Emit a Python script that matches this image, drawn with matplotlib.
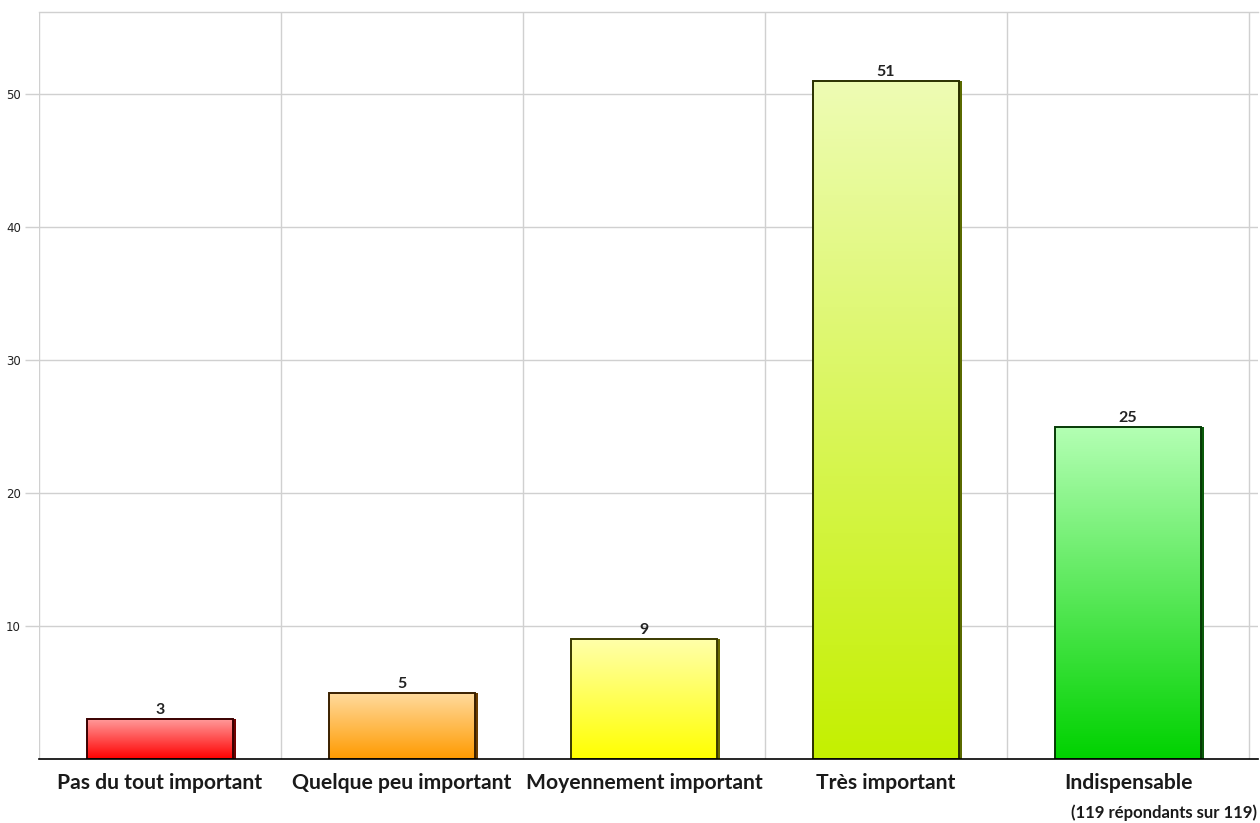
import numpy as np
import matplotlib
matplotlib.use("Agg")
import matplotlib.pyplot as plt
import matplotlib.transforms as mtransforms
from matplotlib.colors import LinearSegmentedColormap

categories = ["Pas du tout important", "Quelque peu important", "Moyennement important",
              "Très important", "Indispensable"]
counts = [3, 5, 9, 51, 25]
yticks = [10, 20, 30, 40, 50]
note = "(119 répondants sur 119)"

# gradient (top colour, bottom colour, edge colour) for each bar
top_colors = ["#ff9a9a", "#ffdca0", "#ffffaa", "#eefcb4", "#b4ffb4"]
bottom_colors = ["#ff0000", "#ff9a00", "#ffff00", "#c4f000", "#00d200"]
edge_colors = ["#3a0000", "#3a2000", "#3a3a00", "#2a3000", "#063a06"]
shadow_colors = ["#700000", "#6a3c00", "#6a6a00", "#5a6a00", "#0a5a0a"]

fig = plt.figure(figsize=(12.6, 8.23), dpi=100)
ax = fig.add_axes([39 / 1260, 1 - 759 / 823, (1258 - 39) / 1260, (759 - 12) / 823])

x = np.arange(len(categories))
width = 0.6
ax.set_xlim(-0.5, 4.537)
ax.set_ylim(0, 56.2)

# grid
for b in np.arange(-0.5, 5, 1.0):
    ax.axvline(b, color="#d0d0d0", lw=1, zorder=0)
for t in yticks:
    ax.axhline(t, color="#d0d0d0", lw=1, zorder=0)
ax.axhline(56.2, color="#d0d0d0", lw=1, zorder=0, clip_on=False)

shadow_tr = mtransforms.offset_copy(ax.transData, fig=fig, x=3, y=0, units="dots")
for i, (xi, v) in enumerate(zip(x, counts)):
    # drop shadow on the right
    ax.bar(xi, v, width=width, color=shadow_colors[i], transform=shadow_tr, zorder=2,
           linewidth=0)
    bar = ax.bar(xi, v, width=width, color="none", edgecolor=edge_colors[i],
                 linewidth=1.4, zorder=4)[0]
    cmap = LinearSegmentedColormap.from_list(f"g{i}", [bottom_colors[i], top_colors[i]])
    grad = np.linspace(0, 1, 256).reshape(-1, 1)
    im = ax.imshow(grad, cmap=cmap, aspect="auto", origin="lower",
                   extent=(xi - width / 2, xi + width / 2, 0, v), zorder=3)
    im.set_clip_path(bar)
    ax.text(xi, v + 0.15, str(v), ha="center", va="bottom", fontsize=11.5,
            fontweight="bold", family="Lato", color="#222222", zorder=5)

ax.set_xlim(-0.5, 4.537)
ax.set_ylim(0, 56.2)

for s in ["top", "right", "left"]:
    ax.spines[s].set_visible(False)
ax.spines["bottom"].set_color("black")
ax.spines["bottom"].set_linewidth(1.2)
ax.spines["bottom"].set_zorder(6)

ax.set_yticks(yticks)
ax.set_yticklabels([str(t) for t in yticks], fontsize=8.5, family="DejaVu Sans", color="#222222")
ax.tick_params(axis="y", length=10, color="#d0d0d0", width=1, pad=3)
ax.set_xticks(x)
ax.set_xticklabels(categories, fontsize=15.2, fontweight="bold", family="Lato", color="#1a1a1a")
ax.tick_params(axis="x", length=0, pad=10)

fig.text(1257 / 1260, 1 - 813 / 823, note, ha="right", va="center", fontsize=12,
         fontweight="bold", family="Lato", color="#1a1a1a")

fig.savefig("out.png", dpi=100, facecolor="white")
